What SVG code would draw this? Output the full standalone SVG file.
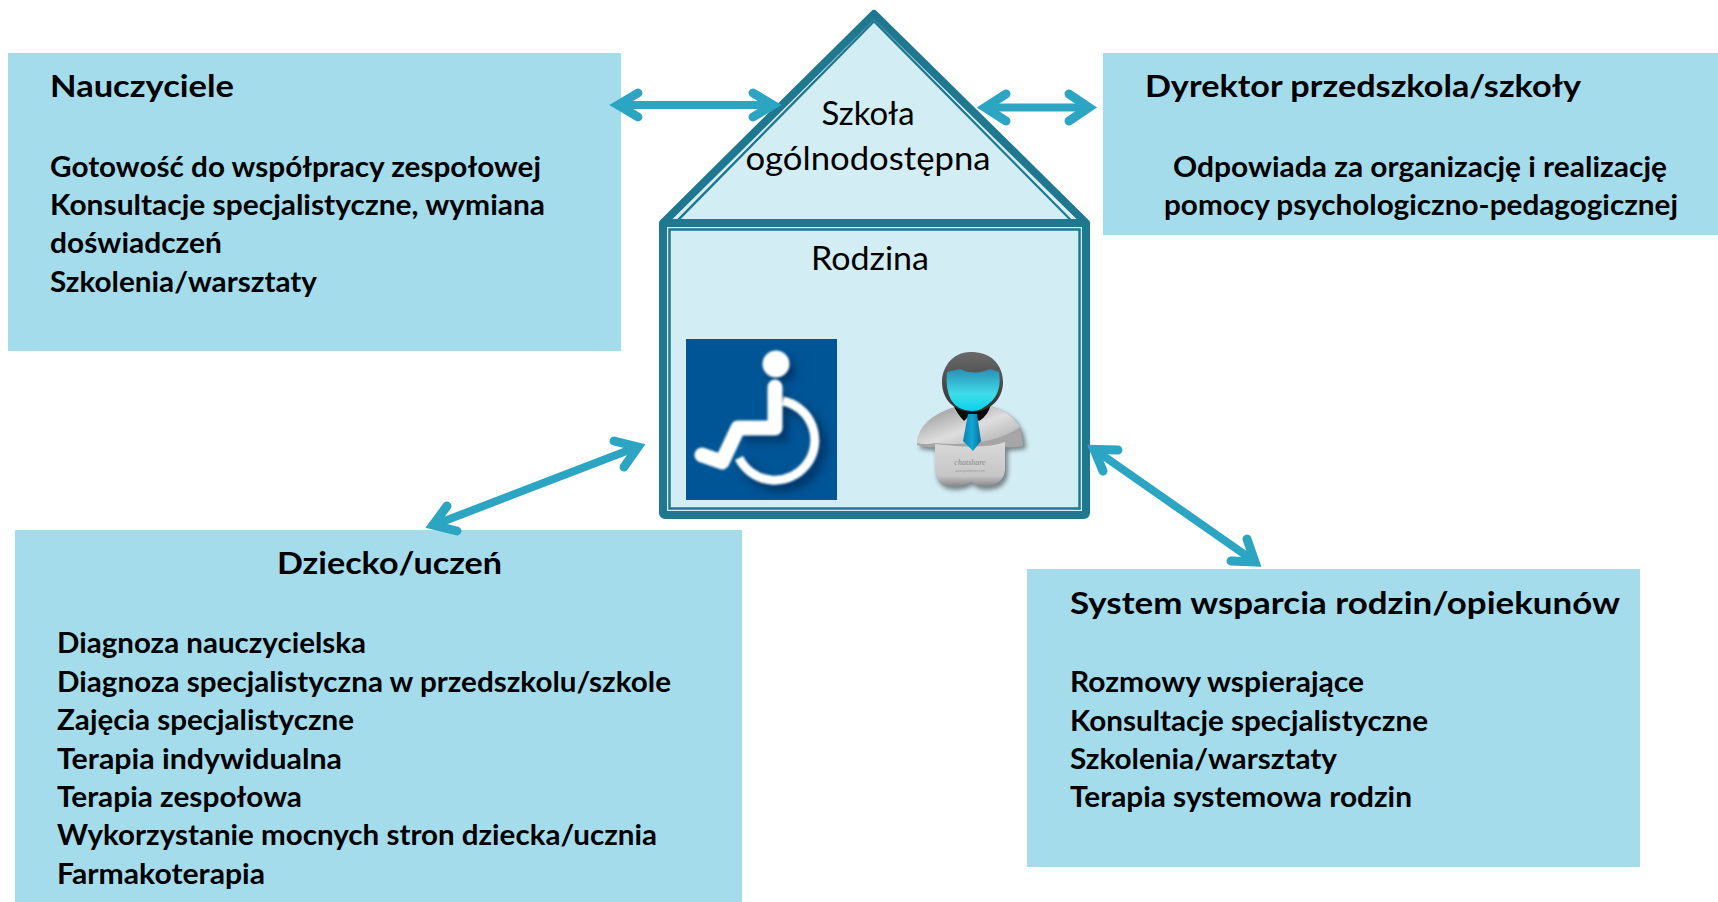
<svg xmlns="http://www.w3.org/2000/svg" width="1718" height="902" viewBox="0 0 1718 902">
<defs>
<style>
.box{fill:#a5dcec}
.h{font:700 31px Lato,Carlito,"Liberation Sans",sans-serif;fill:#000}
.t{font:700 28px Lato,Carlito,"Liberation Sans",sans-serif;fill:#000}
.c{font:400 32px Lato,Carlito,"Liberation Sans",sans-serif;fill:#000;text-anchor:middle}
.out{fill:none;stroke:#1f788f;stroke-width:8;stroke-linejoin:round}
.in{fill:#d3edf5;stroke:#1f788f;stroke-width:2.500}
.gap{fill:none;stroke:#d3edf5;stroke-width:2.500}
.ln{stroke:#2ca5c3;stroke-width:8;fill:none}
.hd{stroke:#2ca5c3;stroke-width:9;fill:none;stroke-linecap:round;stroke-linejoin:miter}
</style>
<linearGradient id="sh" x1="0" y1="0" x2="1" y2="1"><stop offset="0" stop-color="#8e8e8e"/><stop offset=".55" stop-color="#dedede"/><stop offset="1" stop-color="#a8a8a8"/></linearGradient>
<linearGradient id="bd" x1="0" y1="0" x2="0" y2="1"><stop offset="0" stop-color="#dcdcdc"/><stop offset=".8" stop-color="#c6c6c6"/><stop offset="1" stop-color="#8a8a8a"/></linearGradient>
<linearGradient id="fc" x1="0" y1="0" x2="0" y2="1"><stop offset="0" stop-color="#2a8fb5"/><stop offset=".6" stop-color="#3fdcea"/><stop offset="1" stop-color="#05d3e8"/></linearGradient>
<linearGradient id="hr" x1="0" y1="0" x2="0" y2="1"><stop offset="0" stop-color="#6a6a6a"/><stop offset="1" stop-color="#2f2f2f"/></linearGradient>
<linearGradient id="tie" x1="0" y1="0" x2="1" y2="0"><stop offset="0" stop-color="#0d7fb0"/><stop offset=".5" stop-color="#12a8d4"/><stop offset="1" stop-color="#0b6d9c"/></linearGradient>
<filter id="b1" x="-20%" y="-20%" width="140%" height="140%"><feGaussianBlur stdDeviation="1"/></filter>
<filter id="b3" x="-30%" y="-30%" width="160%" height="160%"><feGaussianBlur stdDeviation="4"/></filter>
<filter id="b2" x="-30%" y="-30%" width="160%" height="160%"><feGaussianBlur stdDeviation="2"/></filter>
<clipPath id="wc"><rect x="686" y="339" width="151" height="161"/></clipPath>
</defs>

<g id="node-nauczyciele">
<rect class="box" x="8" y="53" width="613" height="298"/>
<text class="h" x="50" y="97" textLength="184" lengthAdjust="spacingAndGlyphs">Nauczyciele</text>
<text class="t" x="50" y="177" textLength="491" lengthAdjust="spacingAndGlyphs">Gotowość do współpracy zespołowej</text>
<text class="t" x="50" y="215" textLength="495" lengthAdjust="spacingAndGlyphs">Konsultacje specjalistyczne, wymiana</text>
<text class="t" x="50" y="253" textLength="172" lengthAdjust="spacingAndGlyphs">doświadczeń</text>
<text class="t" x="50" y="292" textLength="267" lengthAdjust="spacingAndGlyphs">Szkolenia/warsztaty</text>
</g>

<g id="node-dyrektor">
<rect class="box" x="1103" y="53" width="615" height="182"/>
<text class="h" x="1145" y="97" textLength="436" lengthAdjust="spacingAndGlyphs">Dyrektor przedszkola/szkoły</text>
<text class="t" x="1173" y="177" textLength="494" lengthAdjust="spacingAndGlyphs">Odpowiada za organizację i realizację</text>
<text class="t" x="1164" y="215" textLength="514" lengthAdjust="spacingAndGlyphs">pomocy psychologiczno-pedagogicznej</text>
</g>

<g id="node-dziecko">
<rect class="box" x="15" y="530" width="727" height="372"/>
<text class="h" x="277" y="574" textLength="225" lengthAdjust="spacingAndGlyphs">Dziecko/uczeń</text>
<text class="t" x="57" y="653" textLength="309" lengthAdjust="spacingAndGlyphs">Diagnoza nauczycielska</text>
<text class="t" x="57" y="692" textLength="614" lengthAdjust="spacingAndGlyphs">Diagnoza specjalistyczna w przedszkolu/szkole</text>
<text class="t" x="57" y="730" textLength="297" lengthAdjust="spacingAndGlyphs">Zajęcia specjalistyczne</text>
<text class="t" x="57" y="769" textLength="285" lengthAdjust="spacingAndGlyphs">Terapia indywidualna</text>
<text class="t" x="57" y="807" textLength="245" lengthAdjust="spacingAndGlyphs">Terapia zespołowa</text>
<text class="t" x="57" y="845" textLength="600" lengthAdjust="spacingAndGlyphs">Wykorzystanie mocnych stron dziecka/ucznia</text>
<text class="t" x="57" y="884" textLength="208" lengthAdjust="spacingAndGlyphs">Farmakoterapia</text>
</g>

<g id="node-system">
<rect class="box" x="1027" y="569" width="613" height="298"/>
<text class="h" x="1070" y="614" textLength="550" lengthAdjust="spacingAndGlyphs">System wsparcia rodzin/opiekunów</text>
<text class="t" x="1070" y="692" textLength="294" lengthAdjust="spacingAndGlyphs">Rozmowy wspierające</text>
<text class="t" x="1070" y="731" textLength="358" lengthAdjust="spacingAndGlyphs">Konsultacje specjalistyczne</text>
<text class="t" x="1070" y="769" textLength="267" lengthAdjust="spacingAndGlyphs">Szkolenia/warsztaty</text>
<text class="t" x="1070" y="807" textLength="342" lengthAdjust="spacingAndGlyphs">Terapia systemowa rodzin</text>
</g>

<g id="node-szkola">
<polygon class="in" points="874,21 1073,222 676,222"/>
<polygon class="gap" points="874,17.500 1078,224 670,224"/>
<path class="out" d="M663,223 L874,14 L1086,223 Z"/>
<text class="c" x="868" y="125" textLength="93" lengthAdjust="spacingAndGlyphs">Szkoła</text>
<text class="c" x="868" y="170" textLength="245" lengthAdjust="spacingAndGlyphs">ogólnodostępna</text>
</g>

<g id="node-rodzina">
<rect class="out" x="663" y="223" width="423" height="292" rx="2"/>
<rect x="667" y="227" width="415" height="284" fill="#d3edf5"/>
<rect class="in" x="669.500" y="229.500" width="410" height="279"/>
<text class="c" x="870" y="270" textLength="118" lengthAdjust="spacingAndGlyphs">Rodzina</text>
</g>

<g id="icon-wheelchair">
<rect x="686" y="339" width="151" height="161" fill="#005596"/>
<g clip-path="url(#wc)" opacity=".6" filter="url(#b3)" transform="translate(6 6)">
<circle cx="776" cy="364" r="13" fill="#002448"/>
<path d="M783,401 A40,40 0 1 1 739,458" fill="none" stroke="#002448" stroke-width="11"/>
<path d="M775,387 V428 H738" fill="none" stroke="#002448" stroke-width="14"/>
</g>
<g filter="url(#b1)">
<circle cx="776" cy="364" r="13.500" fill="#fff"/>
<path d="M783,401 A40,40 0 1 1 739,458" fill="none" stroke="#fff" stroke-width="9"/>
<path d="M775,387 V428 H738 L722,462 L702,455" fill="none" stroke="#fff" stroke-width="15" stroke-linecap="round" stroke-linejoin="round"/>
</g>
</g>

<g id="icon-person">
<path d="M918,447 Q919,418 958,407 H990 Q1024,415 1024,447 L1006,449 V472 Q1004,488 984,488 Q976,488 971,483 Q965,488 952,488 Q936,487 935,472 V449 Z" fill="#222" filter="url(#b2)" opacity=".5" transform="translate(2 2)"/>
<path d="M935,436 H1005 V470 Q1003,486 984,486 Q976,486 971,482 Q965,486 952,486 Q936,485 935,470 Z" fill="url(#bd)"/>
<path d="M917,445 Q918,418 958,406 H990 Q1022,414 1023,446 Q1014,448 1005,447 V442 Q985,450 935,444 V447 Q925,448 917,445 Z" fill="#a6a6a6"/>
<path d="M917,443 Q918,418 958,406 H990 Q1010,411 1020,427 Q990,448 935,443 Q925,445 917,443 Z" fill="url(#sh)"/>
<path d="M953,404 Q957,414 964,421 L971,414 L979,421 Q988,416 991,404 Q972,398 953,404 Z" fill="#0a0a0a"/>
<path d="M968,414 H977 L981,441 L973,451 L963,441 Z" fill="url(#tie)"/>
<path d="M972,352 C953,351 942,367 942,382 C942,400 955,412 972,412 C989,412 1003,400 1003,382 C1003,366 992,352 972,352 Z" fill="url(#hr)"/>
<path d="M947,372 Q950,371 960,369 Q974,376 990,369 L999,372 Q1002,390 992,401 Q982,411 972,411 Q958,411 951,400 Q945,388 947,372 Z" fill="url(#fc)"/>
<text x="970" y="465" font-family="Liberation Serif,serif" font-style="italic" font-size="8" fill="#888" text-anchor="middle">chatshare</text>
<text x="970" y="472" font-family="Liberation Sans,sans-serif" font-size="3" fill="#999" text-anchor="middle">www.yourdomain.com</text>
</g>

<g id="connectors">
<g>
<line class="ln" x1="620" y1="105" x2="773" y2="105"/>
<path class="hd" d="M638,93 L618,105 L638,117"/>
<path class="hd" d="M753,93 L773,105 L753,117"/>
</g>
<g>
<line class="ln" x1="986" y1="107.500" x2="1088" y2="107.500"/>
<path class="hd" d="M1006,94 L985,107.500 L1006,121"/>
<path class="hd" d="M1069,94 L1089,107.500 L1069,121"/>
</g>
<g>
<line class="ln" x1="434" y1="525" x2="637" y2="447"/>
<path class="hd" d="M447,506 L433,525 L457,531"/>
<path class="hd" d="M614,441 L638,447 L624,467"/>
</g>
<g>
<line class="ln" x1="1095" y1="450" x2="1254" y2="561"/>
<path class="hd" d="M1103,471 L1094,449.500 L1118,450"/>
<path class="hd" d="M1247,539 L1255,562 L1231,561"/>
</g>
</g>
</svg>
